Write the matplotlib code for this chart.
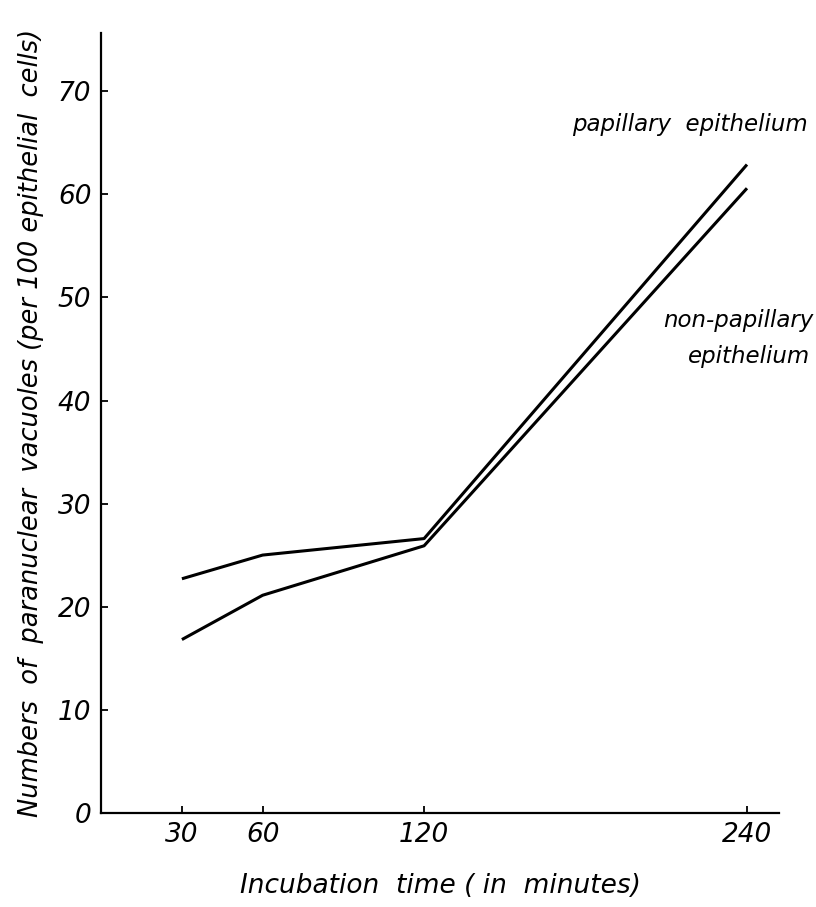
import matplotlib
matplotlib.use("Agg")
import matplotlib.pyplot as plt

# Data
times = [30, 60, 120, 240]
papillary = [22.7, 25.0, 26.6, 62.9]
non_papillary = [16.8, 21.1, 25.9, 60.6]
y_ticks = [0, 10, 20, 30, 40, 50, 60, 70]
x_ticks = [30, 60, 120, 240]

plt.rcParams['font.family'] = ['DejaVu Sans']

fig = plt.figure(figsize=(8.16, 9.07), dpi=100)
ax = fig.add_axes([0.124, 0.104, 0.831, 0.86])

ax.plot(times, papillary, color='black', lw=2.2, solid_capstyle='butt')
ax.plot(times, non_papillary, color='black', lw=2.2, solid_capstyle='butt')

ax.set_xlim(0, 252)
ax.set_ylim(0, 75.7)
ax.spines['top'].set_visible(False)
ax.spines['right'].set_visible(False)
for s in ['left', 'bottom']:
    ax.spines[s].set_linewidth(1.6)

ax.set_xticks(x_ticks)
ax.set_xticklabels([str(t) for t in x_ticks], fontstyle='italic', fontsize=19)
ax.set_yticks(y_ticks)
ax.set_yticklabels([str(t) for t in y_ticks], fontstyle='italic', fontsize=19)
ax.tick_params(direction='in', length=5, width=1.3, pad=7)

ax.set_xlabel('Incubation  time ( in  minutes)', fontstyle='italic', fontsize=19, labelpad=18)
ax.set_ylabel('Numbers  of  paranuclear  vacuoles (per 100 epithelial  cells)',
              fontstyle='italic', fontsize=18.5, labelpad=10)

ax.text(175, 66.8, 'papillary  epithelium', fontstyle='italic', fontsize=16.5,
        va='center', ha='left', clip_on=False)
ax.text(209, 47.8, 'non-papillary', fontstyle='italic', fontsize=16.5,
        va='center', ha='left', clip_on=False)
ax.text(218, 44.3, 'epithelium', fontstyle='italic', fontsize=16.5,
        va='center', ha='left', clip_on=False)

fig.savefig('out.png', dpi=100)
